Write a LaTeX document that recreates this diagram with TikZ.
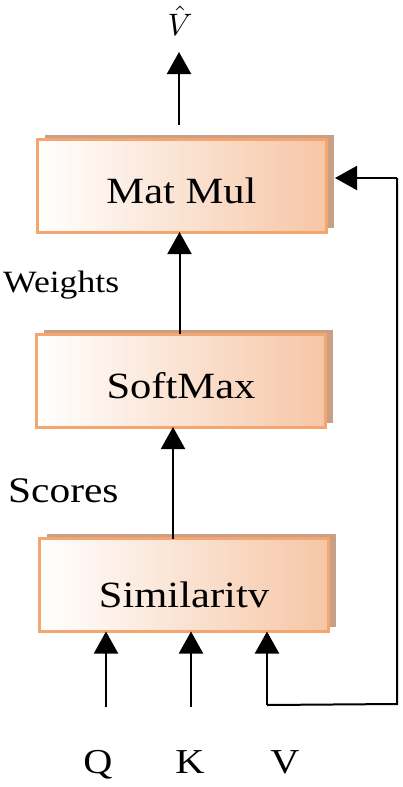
\documentclass[tikz,border=0pt]{standalone}
\usepackage{fontspec}
\setmainfont[FakeStretch=1.15]{Liberation Serif}
\usetikzlibrary{arrows.meta,shadows}
\definecolor{peach}{RGB}{246,198,166}
\definecolor{borderc}{RGB}{244,166,110}
\definecolor{shadowc}{RGB}{200,160,136}
\tikzset{
  blk/.style={draw=borderc, line width=3pt, left color=white, right color=peach,
    minimum width=289pt, minimum height=93pt, inner sep=0pt, outer sep=0pt,
    font=\fontsize{37}{40}\selectfont, text height=35pt, text depth=0pt,
    drop shadow={shadow xshift=7.5pt, shadow yshift=4.5pt, fill=shadowc, opacity=1}},
  arr/.style={line width=2pt, -{Triangle[length=22pt,width=24pt]}},
  ln/.style={line width=2pt},
  side/.style={anchor=base west, inner sep=0pt}
}
\begin{document}
\begin{tikzpicture}[x=1pt,y=-1pt]
\useasboundingbox (0,0) rectangle (402,787);
\node[blk] (mm) at (181.5,185.5) {Mat Mul};
\node[blk] (sm) at (181,380.5) {SoftMax};
\node[blk, text height=44pt] (sim) at (184,585) {Similaritv};
\node[inner sep=0pt] (vhat) at (180,21) {\scalebox{3.1}{$\hat{V}$}};
\node[side, font=\fontsize{31}{33}\selectfont] (wt) at (3,292) {Weights};
\node[side, font=\fontsize{36}{38}\selectfont] (sc) at (8,502) {Scores};
\node[anchor=base, inner sep=0pt, font=\fontsize{35}{37}\selectfont] (ql) at (98,773) {Q};
\node[anchor=base, inner sep=0pt, font=\fontsize{35}{37}\selectfont] (kl) at (190,773) {K};
\node[anchor=base, inner sep=0pt, font=\fontsize{35}{37}\selectfont] (vl) at (285,773) {V};
\coordinate (topst) at (179,125);
\coordinate (toptip) at (179,52);
\coordinate (qs) at (106,707);
\coordinate (ks) at (191,707);
\coordinate (vs) at (267,705);
\coordinate (rb) at (397,704);
\coordinate (rt) at (397,178);
\coordinate (fb) at (335,178);
\draw[arr] (topst) -- (toptip);
\draw[arr] ([xshift=-1.5pt]sm.north) -- ([xshift=-1.5pt]sm.north |- mm.south);
\draw[arr] ([xshift=-11pt]sim.north) -- ([xshift=-11pt]sim.north |- sm.south);
\draw[arr] (qs) -- (qs |- sim.south);
\draw[arr] (ks) -- (ks |- sim.south);
\draw[arr] (vs) -- (vs |- sim.south);
\draw[ln] (vs) -- (rb) -- (rt);
\draw[arr] (rt) -- (fb);
\end{tikzpicture}
\end{document}
